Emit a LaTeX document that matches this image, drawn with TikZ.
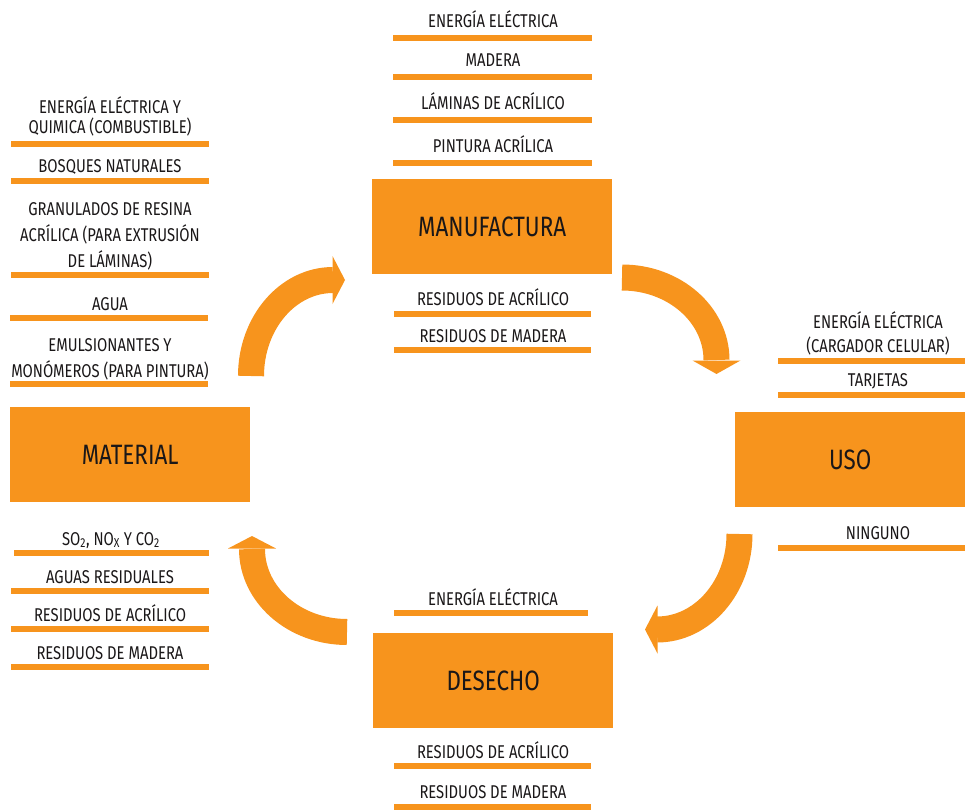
\documentclass[tikz,border=0pt]{standalone}
\usepackage{fontspec}
\setmainfont{Fira Sans}[FakeStretch=0.8]
\definecolor{orng}{HTML}{F7941D}
\definecolor{ink}{HTML}{1A1718}
\begin{document}
\begin{tikzpicture}[x=1pt,y=-1pt,
  lbl/.style={text=ink, font=\fontsize{18.5}{26}\selectfont, align=center, inner sep=0pt, anchor=base},
  stage/.style={fill=orng, text=ink, font=\fontsize{28}{30}\selectfont, inner sep=0pt, anchor=north west, minimum width=240pt, minimum height=95pt},
  rule/.style={draw=orng, line width=5.5pt},
  flow/.style={draw=orng, line width=26pt},
  head/.style={fill=orng}]
\useasboundingbox (0,0) rectangle (965,810);

% stages
\node[stage] (manu) at (372,179) {MANUFACTURA};
\node[stage] (mat) at (10,407) {MATERIAL};
\node[stage, minimum width=230pt] (uso) at (735,412) {USO};
\node[stage] (des) at (373,633) {DESECHO};

% manufactura inputs
\node[lbl] (m1) at (493,28) {ENERGÍA ELÉCTRICA};
\draw[rule] (393,38) -- (592,38);
\node[lbl] (m2) at (493,67) {MADERA};
\draw[rule] (393,77) -- (592,77);
\node[lbl] (m3) at (493,110) {LÁMINAS DE ACRÍLICO};
\draw[rule] (393,120) -- (592,120);
\node[lbl] (m4) at (493,153) {PINTURA ACRÍLICA};
\draw[rule] (393,163) -- (592,163);
% manufactura outputs
\node[lbl] (m5) at (493,305) {RESIDUOS DE ACRÍLICO};
\draw[rule] (394,314) -- (591,314);
\node[lbl] (m6) at (493,342) {RESIDUOS DE MADERA};
\draw[rule] (394,350) -- (591,350);

% material inputs
\node[lbl] (a1) at (110,134) {ENERGÍA ELÉCTRICA Y\\[-6pt]QUIMICA (COMBUSTIBLE)};
\draw[rule] (11,144) -- (209,144);
\node[lbl] (a2) at (110,173) {BOSQUES NATURALES};
\draw[rule] (11,181) -- (209,181);
\node[lbl] (a3) at (110,267) {GRANULADOS DE RESINA\\ACRÍLICA (PARA EXTRUSIÓN\\DE LÁMINAS)};
\draw[rule] (11,275) -- (209,275);
\node[lbl] (a4) at (110,310) {AGUA};
\draw[rule] (10,318) -- (208,318);
\node[lbl] (a5) at (110,377) {EMULSIONANTES Y\\MONÓMEROS (PARA PINTURA)};
\draw[rule] (10,384) -- (208,384);
% material outputs
\node[lbl] (b1) at (111,545) {SO\textsubscript{2}, NO\textsubscript{X} Y CO\textsubscript{2}};
\draw[rule] (14,553) -- (209,553);
\node[lbl] (b2) at (110,583) {AGUAS RESIDUALES};
\draw[rule] (11,591) -- (209,591);
\node[lbl] (b3) at (110,621) {RESIDUOS DE ACRÍLICO};
\draw[rule] (11,629) -- (209,629);
\node[lbl] (b4) at (110,659) {RESIDUOS DE MADERA};
\draw[rule] (11,667) -- (209,667);

% uso
\node[lbl] (u1) at (878,352) {ENERGÍA ELÉCTRICA\\[-2pt](CARGADOR CELULAR)};
\draw[rule] (778,361) -- (965,361);
\node[lbl] (u2) at (878,386) {TARJETAS};
\draw[rule] (778,395) -- (965,395);
\node[lbl] (u3) at (878,539) {NINGUNO};
\draw[rule] (778,548) -- (965,548);

% desecho
\node[lbl] (d1) at (493,605) {ENERGÍA ELÉCTRICA};
\draw[rule] (394,613) -- (588,613);
\node[lbl] (d2) at (493,758) {RESIDUOS DE ACRÍLICO};
\draw[rule] (394,766) -- (591,766);
\node[lbl] (d3) at (493,798) {RESIDUOS DE MADERA};
\draw[rule] (394,807) -- (591,807);

% flow arrows
\coordinate (t1) at (251,376);  \coordinate (h1) at (333,280);
\coordinate (t2) at (622,277.5); \coordinate (h2) at (716.5,360);
\coordinate (t3) at (739.5,534); \coordinate (h3) at (657,629.5);
\coordinate (t4) at (347,632);  \coordinate (h4) at (252,549);

\draw[flow] (t1) arc[start angle=180, end angle=270, x radius=82, y radius=96];
\fill[head] ([xshift=-0.5pt]h1) ++(0,-24) -- ++(12.5,24) -- ++(-12.5,24) -- cycle;

\draw[flow] (t2) arc[start angle=270, end angle=360, x radius=94.5, y radius=82.5];
\fill[head] ([yshift=-0.5pt]h2) ++(-24,0) -- ++(24,13.5) -- ++(24,-13.5) -- cycle;

\draw[flow] (t3) arc[start angle=0, end angle=90, x radius=82.5, y radius=95.5];
\fill[head] ([xshift=0.5pt]h3) ++(0,-24) -- ++(-12.5,24) -- ++(12.5,24) -- cycle;

\draw[flow] (t4) arc[start angle=90, end angle=180, x radius=95, y radius=83];
\fill[head] ([yshift=0.5pt]h4) ++(-24,0) -- ++(24,-12.5) -- ++(24,12.5) -- cycle;
\end{tikzpicture}
\end{document}
